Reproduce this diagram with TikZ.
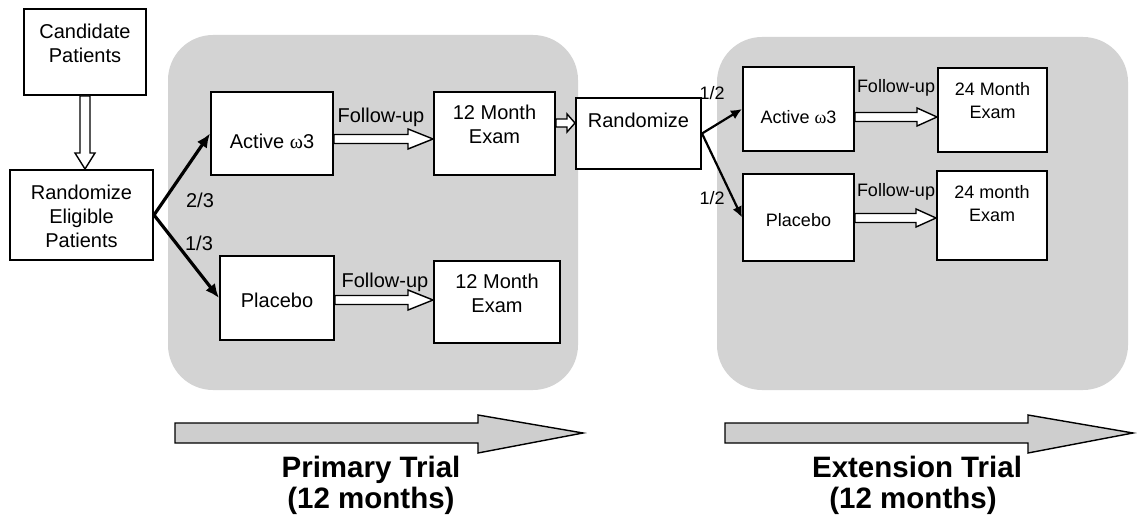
\documentclass[tikz,border=0pt]{standalone}
\usepackage{fontspec}
\setmainfont{Liberation Sans}
\newfontfamily\grk{Liberation Serif}
\usetikzlibrary{calc,arrows.meta}
\definecolor{regiongray}{RGB}{211,211,211}
\definecolor{arrowgray}{RGB}{206,206,206}
\tikzset{
  region/.style={fill=regiongray, draw=none, rounded corners=45pt},
  box/.style={draw=black, line width=2pt, fill=white, rectangle, inner sep=0pt},
  txt/.style={align=center, font=\fontsize{20}{24}\selectfont, inner sep=0pt},
  txts/.style={align=center, font=\fontsize{18}{23}\selectfont, inner sep=0pt},
  lbl/.style={font=\fontsize{20}{24}\selectfont, inner sep=0pt, anchor=base},
  lbls/.style={font=\fontsize{18}{22}\selectfont, inner sep=0pt, anchor=base},
  title/.style={font=\fontsize{29.5}{31}\selectfont\bfseries, inner sep=0pt, anchor=base},
  branch/.style={line width=3.2pt, -{Latex[length=14pt,width=12pt]}},
  branchs/.style={line width=2.2pt, -{Latex[length=11pt,width=10pt]}},
  hollow/.style n args={3}{draw=black, line width=1.4pt, fill=white, line join=miter,
    to path={let \p1=(\tikztostart), \p2=(\tikztotarget), \p3=($(\p2)!#3!(\p1)$) in
      ($(\p1)!#1!90:(\p2)$) -- ($(\p3)!#1!-90:(\p1)$) -- ($(\p3)!#2!-90:(\p1)$) -- (\p2)
      -- ($(\p3)!#2!90:(\p1)$) -- ($(\p3)!#1!90:(\p1)$) -- ($(\p1)!#1!-90:(\p2)$) -- cycle}},
  bigarrow/.style={draw=black, line width=1.4pt, fill=arrowgray, line join=miter},
}
\begin{document}
\begin{tikzpicture}[x=1pt, y=-1pt]
\useasboundingbox (0,0) rectangle (1139,529);
% shaded regions
\fill[region] (168,35) rectangle (578,390);
\fill[region] (717,37) rectangle (1128,390);

% boxes
\node[box, minimum width=122pt, minimum height=86pt] (cand) at (85,52) {};
\node[box, minimum width=143pt, minimum height=90pt] (rand1) at (81.5,215) {};
\node[box, minimum width=122pt, minimum height=83pt] (act1) at (272,133.5) {};
\node[box, minimum width=121pt, minimum height=83pt] (exam1a) at (494.5,133.5) {};
\node[box, minimum width=114pt, minimum height=84pt] (plac1) at (277,298) {};
\node[box, minimum width=126pt, minimum height=82pt] (exam1b) at (497,302) {};
\node[box, minimum width=125pt, minimum height=71pt] (rand2) at (638.5,133.5) {};
\node[box, minimum width=111pt, minimum height=84pt] (act2) at (798.5,109) {};
\node[box, minimum width=109pt, minimum height=84pt] (exam2a) at (992.5,110) {};
\node[box, minimum width=111pt, minimum height=87pt] (plac2) at (798.5,217.5) {};
\node[box, minimum width=110pt, minimum height=89pt] (exam2b) at (992,215.5) {};

% box texts
\node[txt] (tcand) at (85,43) {Candidate\\Patients};
\node[txt] (trand1) at (81.5,216) {Randomize\\Eligible\\Patients};
\node[txt] (tact1) at (272,141) {Active {\grk ω}3};
\node[txt] (texam1a) at (494.5,124) {12 Month\\Exam};
\node[txt] (tplac1) at (277,300) {Placebo};
\node[txt] (texam1b) at (497,293) {12 Month\\Exam};
\node[txt] (trand2) at (638.5,120) {Randomize};
\node[txts] (tact2) at (798.5,117) {Active {\grk ω}3};
\node[txts] (texam2a) at (992.5,101) {24 Month\\Exam};
\node[txts] (tplac2) at (798.5,220) {Placebo};
\node[txts] (texam2b) at (992,204) {24 month\\Exam};

% hollow arrows
\draw[hollow={5pt}{10pt}{16pt}] (cand.south) to (cand.south |- rand1.north);
\draw[hollow={4.5pt}{10pt}{25pt}] ([yshift=-5.5pt]act1.east) to ([yshift=-5.5pt]act1.east -| exam1a.west);
\draw[hollow={4.5pt}{10pt}{25pt}] ([yshift=-2pt]plac1.east) to ([yshift=-2pt]plac1.east -| exam1b.west);
\draw[hollow={4pt}{9pt}{8pt}] ([yshift=10.5pt]exam1a.east) to ([yshift=10.5pt]exam1a.east -| rand2.west);
\draw[hollow={4.5pt}{9pt}{20pt}] ([yshift=-8pt]act2.east) to ([yshift=-8pt]act2.east -| exam2a.west);
\draw[hollow={4.5pt}{9pt}{20pt}] ([yshift=-0.5pt]plac2.east) to ([yshift=-0.5pt]plac2.east -| exam2b.west);

% follow-up labels
\node[lbl] (fu1) at (381,123) {Follow-up};
\node[lbl] (fu2) at (385,287) {Follow-up};
\node[lbls] (fu3) at (896,93) {Follow-up};
\node[lbls] (fu4) at (896,197) {Follow-up};

% branch arrows
\draw[branch] (rand1.east) -- (act1.west);
\draw[branch] (rand1.east) -- (plac1.west);
\draw[branchs] (rand2.east) -- (act2.west);
\draw[branchs] (rand2.east) -- (plac2.west);

% ratio labels
\node[lbl] (r23) at (200,208) {2/3};
\node[lbl] (r13) at (199,250) {1/3};
\node[lbls] (r12a) at (712,100) {1/2};
\node[lbls] (r12b) at (712,205) {1/2};

% timeline arrows
\draw[bigarrow] (175,423) -- (478,423) -- (478,415) -- (583,433) -- (478,453) -- (478,443) -- (175,443) -- cycle;
\draw[bigarrow] (725,423) -- (1028,423) -- (1028,415) -- (1133,433) -- (1028,453) -- (1028,443) -- (725,443) -- cycle;

% titles
\node[title] (pt1) at (371,477) {Primary Trial};
\node[title] (pt2) at (371,508) {(12 months)};
\node[title] (et1) at (917,477) {Extension Trial};
\node[title] (et2) at (913,508) {(12 months)};
\end{tikzpicture}
\end{document}
